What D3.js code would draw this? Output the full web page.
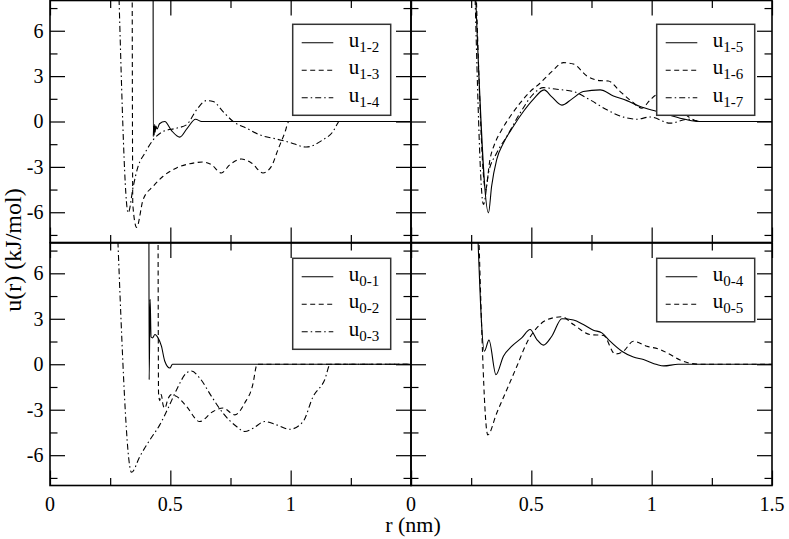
<!DOCTYPE html>
<html lang="en">
<head>
<meta charset="UTF-8">
<title>u(r) pair potentials</title>
<script src="https://d3js.org/d3.v7.min.js"></script>
<style>
  body { margin: 0; background: #fff; }
  svg { display: block; }
</style>
</head>
<body>
<div id="chart"></div>
<script>
// r (nm), u (kJ/mol)
const u12 = [[0.4285, 9], [0.429, -1.0], [0.431, -0.3], [0.433, -0.9], [0.435, -0.2], [0.437, -0.7], [0.44, -0.3], [0.445, -0.5], [0.455, -0.15], [0.477, 0.0], [0.505, -0.6], [0.539, -1.03], [0.57, -0.45], [0.605, 0.15], [0.63, 0.0], [1.5, 0]];
const u13 = [[0.3415, 9], [0.344, -5.5], [0.36, -7.0], [0.387, -5.16], [0.429, -4.28], [0.47, -3.62], [0.526, -3.07], [0.581, -2.79], [0.636, -2.68], [0.671, -2.86], [0.712, -3.4], [0.747, -2.86], [0.795, -2.48], [0.837, -2.74], [0.885, -3.4], [0.92, -2.97], [0.947, -1.87], [0.975, -0.77], [0.993, 0], [1.5, 0]];
const u14 = [[0.2854, 9], [0.325, -6.04], [0.346, -4.28], [0.366, -2.97], [0.394, -2.09], [0.429, -1.21], [0.47, -0.66], [0.526, -0.44], [0.567, -0.22], [0.609, 0.77], [0.65, 1.38], [0.678, 1.32], [0.719, 0.66], [0.761, 0], [0.816, -0.44], [0.871, -0.88], [0.941, -1.16], [0.996, -1.38], [1.065, -1.69], [1.134, -1.21], [1.176, -0.66], [1.196, -0.1], [1.2, 0], [1.5, 0]];

const u15 = [[0.267, 9], [0.322, -6.04], [0.335, -4.28], [0.356, -2.52], [0.384, -1.43], [0.425, -0.33], [0.467, 0.66], [0.509, 1.48], [0.553, 2.09], [0.584, 1.65], [0.627, 1.08], [0.668, 1.48], [0.716, 1.98], [0.786, 2.09], [0.841, 1.69], [0.897, 1.38], [0.952, 0.99], [1.022, 0.66], [1.118, 0.22], [1.174, 0.03], [1.2, 0], [1.5, 0]];
const u16 = [[0.27, 9], [0.31, -4.5], [0.328, -2.52], [0.349, -1.43], [0.377, -0.55], [0.412, 0.33], [0.453, 1.21], [0.495, 1.98], [0.536, 2.53], [0.585, 3.3], [0.633, 3.89], [0.675, 3.8], [0.731, 3.01], [0.786, 2.7], [0.82, 2.68], [0.869, 1.98], [0.918, 1.32], [0.959, 0.88], [0.994, 1.43], [1.022, 1.76], [1.08, 1.5], [1.15, 0.35], [1.2, 0], [1.5, 0]];
const u17 = [[0.265, 9], [0.301, -5.49], [0.322, -3.4], [0.356, -2.09], [0.398, -0.99], [0.453, 0.55], [0.509, 1.83], [0.55, 2.24], [0.606, 2.13], [0.675, 1.98], [0.744, 1.43], [0.814, 0.77], [0.883, 0.29], [0.938, 0.15], [0.994, 0.3], [1.077, -0.11], [1.15, 0.15], [1.2, 0], [1.5, 0]];

const u01 = [[0.411, 9], [0.412, -1.02], [0.416, 4.28], [0.42, 1.8], [0.426, 1.74], [0.436, 1.96], [0.449, 1.74], [0.463, 1.19], [0.477, 0.2], [0.498, -0.25], [0.509, 0], [1.5, 0]];
const u02 = [[0.449, 9], [0.451, -1.9], [0.456, -2.4], [0.462, -2.0], [0.47, -2.7], [0.477, -2.9], [0.49, -2.3], [0.505, -2.0], [0.526, -2.12], [0.567, -2.78], [0.622, -3.78], [0.678, -3.11], [0.719, -2.89], [0.768, -3.34], [0.809, -2.56], [0.844, -1.24], [0.857, -0.13], [0.86, 0], [1.5, 0]];
const u03 = [[0.28, 9], [0.339, -7.13], [0.373, -6.09], [0.415, -4.99], [0.456, -4.0], [0.491, -2.89], [0.526, -1.68], [0.567, -0.58], [0.588, -0.45], [0.622, -0.91], [0.671, -2.12], [0.719, -3.23], [0.775, -4.11], [0.809, -4.44], [0.844, -4.22], [0.892, -3.78], [0.941, -4.0], [0.996, -4.29], [1.051, -3.8], [1.093, -2.14], [1.141, -1.04], [1.165, 0], [1.5, 0]];

const u04 = [[0.2765, 9], [0.305, 0.86], [0.324, 1.59], [0.353, -0.69], [0.384, 0.53], [0.419, 1.19], [0.46, 1.74], [0.495, 2.29], [0.523, 1.63], [0.55, 1.26], [0.585, 1.85], [0.627, 3.0], [0.675, 2.92], [0.716, 2.62], [0.758, 2.25], [0.793, 2.07], [0.827, 1.52], [0.876, 0.86], [0.924, 0.48], [0.966, 0.31], [1.022, -0.02], [1.05, -0.11], [1.11, 0], [1.5, 0]];
const u05 = [[0.281, 9], [0.319, -4.66], [0.356, -3.23], [0.398, -1.68], [0.44, -0.13], [0.481, 1.41], [0.536, 2.62], [0.592, 3.07], [0.627, 3.13], [0.675, 2.62], [0.744, 1.96], [0.8, 1.9], [0.848, 0.68], [0.883, 0.86], [0.924, 1.52], [0.98, 1.19], [1.035, 0.97], [1.077, 0.64], [1.118, 0.28], [1.2, 0], [1.5, 0]];

const xMajor = [0, 0.5, 1, 1.5];
const xMinor = [0.25, 0.75, 1.25];
const yMajor = [-6, -3, 0, 3, 6];
const yMinor = [-7.5, -4.5, -1.5, 1.5, 4.5, 7.5];

const W = 789, H = 539;
const FONT = '"Liberation Serif"';
const dashes = { solid: null, dash: '5,3.5', dashdot: '6,3,1.5,3' };

const panels = [
  { x0: 50, x1: 411, y0: 0.5, y1: 242.5, yLabels: true, xLabels: null,
    legend: [292.7, 24.3],
    series: [['1-2', u12, 'solid'], ['1-3', u13, 'dash'], ['1-4', u14, 'dashdot']] },
  { x0: 411, x1: 772, y0: 0.5, y1: 242.5, yLabels: false, xLabels: null,
    legend: [656.7, 24.3],
    series: [['1-5', u15, 'solid'], ['1-6', u16, 'dash'], ['1-7', u17, 'dashdot']] },
  { x0: 50, x1: 411, y0: 243, y1: 485.5, yLabels: true, xLabels: [0, 0.5, 1],
    legend: [292.7, 258.3],
    series: [['0-1', u01, 'solid'], ['0-2', u02, 'dash'], ['0-3', u03, 'dashdot']] },
  { x0: 411, x1: 772, y0: 243, y1: 485.5, yLabels: false, xLabels: [0, 0.5, 1, 1.5],
    legend: [656.7, 258.3],
    series: [['0-4', u04, 'solid'], ['0-5', u05, 'dash']] }
];

const svg = d3.select('#chart').append('svg')
  .attr('width', W).attr('height', H);

// text helper, serif like the original
function label(sel, size) {
  return sel.style('font-family', FONT).style('font-size', size + 'px').attr('fill', '#000');
}

panels.forEach((p, i) => {
  const x = d3.scaleLinear().domain([0, 1.5]).range([p.x0, p.x1]);
  const y = d3.scaleLinear().domain([-8, 8]).range([p.y1, p.y0]);
  const g = svg.append('g');

  g.append('clipPath').attr('id', 'clip' + i)
    .append('rect')
    .attr('x', p.x0).attr('y', p.y0)
    .attr('width', p.x1 - p.x0).attr('height', p.y1 - p.y0);

  const line = d3.line()
    .x(d => x(d[0]))
    .y(d => y(d[1]))
    .curve(d3.curveMonotoneX);

  g.append('g').attr('clip-path', `url(#clip${i})`)
    .selectAll('path')
    .data(p.series)
    .join('path')
    .attr('d', d => line(d[1]))
    .attr('fill', 'none')
    .attr('stroke', '#000')
    .attr('stroke-width', 1.1)
    .attr('stroke-dasharray', d => dashes[d[2]]);

  // inward ticks on all four sides
  const tick = (axis, tf, vals, size) => {
    const a = g.append('g').attr('transform', tf)
      .call(axis.tickValues(vals).tickSizeInner(-size).tickSizeOuter(0).tickFormat(''));
    a.select('.domain').remove();
    a.selectAll('text').remove();
    a.selectAll('line').attr('stroke', '#000').attr('stroke-width', 1.2);
  };
  tick(d3.axisBottom(x), `translate(0,${p.y1})`, xMajor, 15);
  tick(d3.axisBottom(x), `translate(0,${p.y1})`, xMinor, 7.5);
  tick(d3.axisTop(x), `translate(0,${p.y0})`, xMajor, 15);
  tick(d3.axisTop(x), `translate(0,${p.y0})`, xMinor, 7.5);
  tick(d3.axisLeft(y), `translate(${p.x0},0)`, yMajor, 15);
  tick(d3.axisLeft(y), `translate(${p.x0},0)`, yMinor, 7.5);
  tick(d3.axisRight(y), `translate(${p.x1},0)`, yMajor, 15);
  tick(d3.axisRight(y), `translate(${p.x1},0)`, yMinor, 7.5);

  g.append('rect')
    .attr('x', p.x0).attr('y', p.y0)
    .attr('width', p.x1 - p.x0).attr('height', p.y1 - p.y0)
    .attr('fill', 'none').attr('stroke', '#000').attr('stroke-width', 1.6);

  if (p.yLabels) {
    g.selectAll('.ylab').data(yMajor).join('text')
      .attr('x', p.x0 - 6.5).attr('y', d => y(d))
      .attr('dy', '0.34em').attr('text-anchor', 'end')
      .call(label, 20)
      .text(d => String(d));
  }
  if (p.xLabels) {
    g.selectAll('.xlab').data(p.xLabels).join('text')
      .attr('x', d => x(d)).attr('y', p.y1 + 25)
      .attr('text-anchor', 'middle')
      .call(label, 20)
      .text(d => String(d));
  }

  // legend
  const [lx, ly] = p.legend;
  const n = p.series.length;
  g.append('rect')
    .attr('x', lx).attr('y', ly)
    .attr('width', 98).attr('height', 36 + (n - 1) * 27.5)
    .attr('fill', '#fff').attr('stroke', '#333').attr('stroke-width', 1.5);
  const items = g.selectAll('.leg').data(p.series).join('g')
    .attr('transform', (d, k) => `translate(${lx},${ly + 18.4 + k * 27.5})`);
  items.append('line')
    .attr('x1', 9).attr('x2', 40.6)
    .attr('stroke', '#000').attr('stroke-width', 1.1)
    .attr('stroke-dasharray', d => dashes[d[2]]);
  const t = items.append('text').attr('x', 56).attr('y', 4).call(label, 21);
  t.append('tspan').text('u');
  t.append('tspan').attr('dy', 5).style('font-size', '15px').text(d => d[0]);
});

svg.append('text')
  .attr('x', 413).attr('y', 531.5)
  .attr('text-anchor', 'middle')
  .call(label, 22)
  .text('r (nm)');

svg.append('text')
  .attr('transform', 'translate(20.5,250) rotate(-90)')
  .attr('text-anchor', 'middle')
  .call(label, 24)
  .text('u(r) (kJ/mol)');
</script>
</body>
</html>
